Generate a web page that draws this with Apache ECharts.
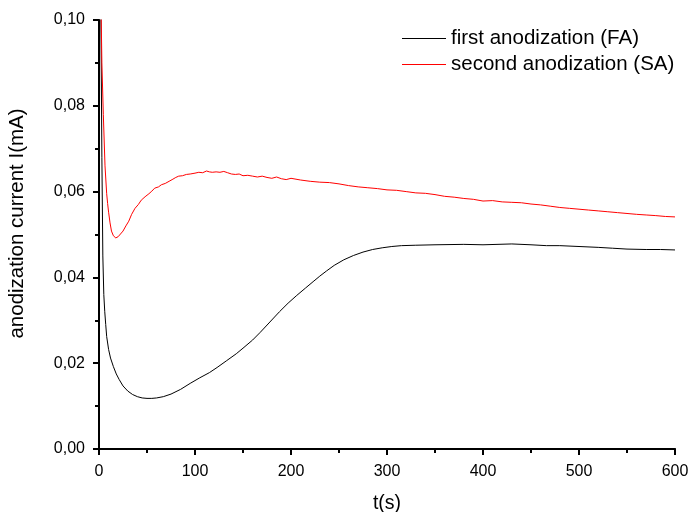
<!DOCTYPE html>
<html>
<head>
<meta charset="utf-8">
<script src="https://cdn.jsdelivr.net/npm/echarts@6/dist/echarts.min.js"></script>
<style>html,body{margin:0;padding:0;background:#fff}#c{width:689px;height:512px}</style>
</head>
<body>
<div id="c"></div>
<script>
var faName = 'first anodization (FA)';
var saName = 'second anodization (SA)';
var faT = [1,2,3,4,5,6,7,8,10,12,15,18,21,25,30,35,40,45,50,55,60,67,75,85,95,105,115,123,133,143,150,160,168,178,188,197,206,215,223,230,237,245,255,265,275,285,295,305,315,330,350,380,400,430,450,466,480,500,520,535,550,570,585,600];
var faI = [0.3,0.1,0.068,0.045,0.036,0.032,0.029,0.0262,0.0232,0.0212,0.0192,0.0175,0.0162,0.0147,0.0135,0.0127,0.0122,0.0119,0.0118,0.0118,0.0119,0.0122,0.0128,0.0139,0.0153,0.0166,0.0178,0.0190,0.0206,0.0222,0.0235,0.0254,0.0272,0.0296,0.0320,0.0340,0.0358,0.0375,0.0390,0.0403,0.0415,0.0428,0.0441,0.0451,0.0459,0.0465,0.0469,0.0472,0.0474,0.0475,0.0476,0.0477,0.0476,0.0478,0.0476,0.0474,0.0474,0.0472,0.0470,0.0468,0.0466,0.0465,0.0465,0.0464];
var saT = [1,2,3,4.5,6.25,8,9,10,11.5,13,15,17.5,20,22,25,28,31,34,37.5,41,44,48,52,55,58,62,65,69,73,77,80,83,87,91,95,100,104,108,112,115,118,122,126,130,134,138,142,146,150,155,160,165,170,175,180,185,190,195,200,210,220,230,240,250,260,270,280,290,300,310,320,330,340,350,360,370,380,390,400,410,420,430,440,450,460,470,480,490,500,510,520,530,540,550,560,570,580,590,600];
var saI = [0.3,0.105,0.09,0.078,0.066,0.0595,0.0572,0.0552,0.0527,0.0508,0.0497,0.0492,0.0495,0.0499,0.0508,0.0520,0.0531,0.0547,0.0561,0.0570,0.0580,0.0588,0.0595,0.0601,0.0608,0.0611,0.0616,0.0619,0.0624,0.0629,0.0633,0.0636,0.0637,0.0640,0.0641,0.0643,0.0645,0.0644,0.0648,0.0646,0.0645,0.0646,0.0645,0.0647,0.0644,0.0641,0.0640,0.0641,0.0637,0.0638,0.0636,0.0634,0.0636,0.0633,0.0631,0.0634,0.0630,0.0628,0.0631,0.0627,0.0624,0.0622,0.0621,0.0618,0.0614,0.0611,0.0609,0.0607,0.0604,0.0603,0.0600,0.0597,0.0596,0.0593,0.0589,0.0587,0.0584,0.0582,0.0578,0.0579,0.0576,0.0575,0.0574,0.0571,0.0569,0.0566,0.0563,0.0561,0.0559,0.0557,0.0555,0.0553,0.0551,0.0549,0.0547,0.05455,0.0544,0.0542,0.0541];
var xTicks = {min: 0, max: 600, interval: 100};
var yTicks = {min: 0, max: 0.1, interval: 0.02};

function pairs(t, v) { return t.map(function (x, i) { return [x, v[i]]; }); }
var FONT = 'Liberation Sans, Arial, Helvetica, sans-serif';
var axLine = {show: true, lineStyle: {color: '#000', width: 2}};

var chart = echarts.init(document.getElementById('c'), null, {renderer: 'canvas'});
chart.setOption({
  animation: false,
  backgroundColor: '#fff',
  textStyle: {fontFamily: FONT},
  grid: {left: 99, right: 14, top: 20, bottom: 63, containLabel: false, outerBoundsMode: 'none'},
  legend: {
    orient: 'vertical', left: 397, top: 23, padding: 5, itemWidth: 44, itemHeight: 1, itemGap: 5,
    icon: 'rect',
    textStyle: {fontFamily: FONT, fontSize: 20.5, color: '#000'},
    data: [faName, saName]
  },
  xAxis: [{
    type: 'value', min: xTicks.min, max: xTicks.max, interval: xTicks.interval,
    name: 't(s)', nameLocation: 'middle', nameGap: 45,
    nameTextStyle: {fontFamily: FONT, fontSize: 19.5, color: '#000'},
    axisLine: axLine,
    axisTick: {show: true, inside: false, length: 6, lineStyle: {color: '#000', width: 2}},
    minorTick: {show: true, splitNumber: 2, length: 4, lineStyle: {color: '#000', width: 2}},
    axisLabel: {fontFamily: FONT, fontSize: 16, color: '#000', margin: 15},
    splitLine: {show: false}
  }, {
    type: 'value', position: 'top', min: xTicks.min, max: xTicks.max, interval: xTicks.interval,
    axisLine: {show: true, lineStyle: {color: '#000', width: 1.5}},
    axisTick: {show: true, inside: true, length: 4, lineStyle: {color: '#000', width: 1}},
    minorTick: {show: true, splitNumber: 2, length: 3, lineStyle: {color: '#000', width: 1}},
    axisLabel: {show: false}, splitLine: {show: false}
  }],
  yAxis: [{
    type: 'value', min: yTicks.min, max: yTicks.max, interval: yTicks.interval,
    name: 'anodization current I(mA)', nameLocation: 'middle', nameGap: 71,
    nameTextStyle: {fontFamily: FONT, fontSize: 20.5, color: '#000', padding: [0, 0, 0, 22]},
    axisLine: axLine,
    axisTick: {show: true, inside: false, length: 6, lineStyle: {color: '#000', width: 2}},
    minorTick: {show: true, splitNumber: 2, length: 4, lineStyle: {color: '#000', width: 2}},
    axisLabel: {fontFamily: FONT, fontSize: 16, color: '#000', margin: 14,
      formatter: function (v) { return v.toFixed(2).replace('.', ','); }},
    splitLine: {show: false}
  }, {
    type: 'value', position: 'right', min: yTicks.min, max: yTicks.max, interval: yTicks.interval,
    axisLine: {show: true, lineStyle: {color: '#000', width: 1.5}},
    axisTick: {show: true, inside: true, length: 4, lineStyle: {color: '#000', width: 1}},
    minorTick: {show: true, splitNumber: 2, length: 3, lineStyle: {color: '#000', width: 1}},
    axisLabel: {show: false}, splitLine: {show: false}
  }],
  series: [{
    name: faName, type: 'line', xAxisIndex: 0, yAxisIndex: 0, data: pairs(faT, faI),
    symbol: 'none', smooth: false, clip: true,
    lineStyle: {color: '#000', width: 1}, itemStyle: {color: '#000'}
  }, {
    name: saName, type: 'line', xAxisIndex: 0, yAxisIndex: 0, data: pairs(saT, saI),
    symbol: 'none', smooth: false, clip: true,
    lineStyle: {color: '#ff0000', width: 1}, itemStyle: {color: '#ff0000'}
  }]
});
</script>
</body>
</html>
